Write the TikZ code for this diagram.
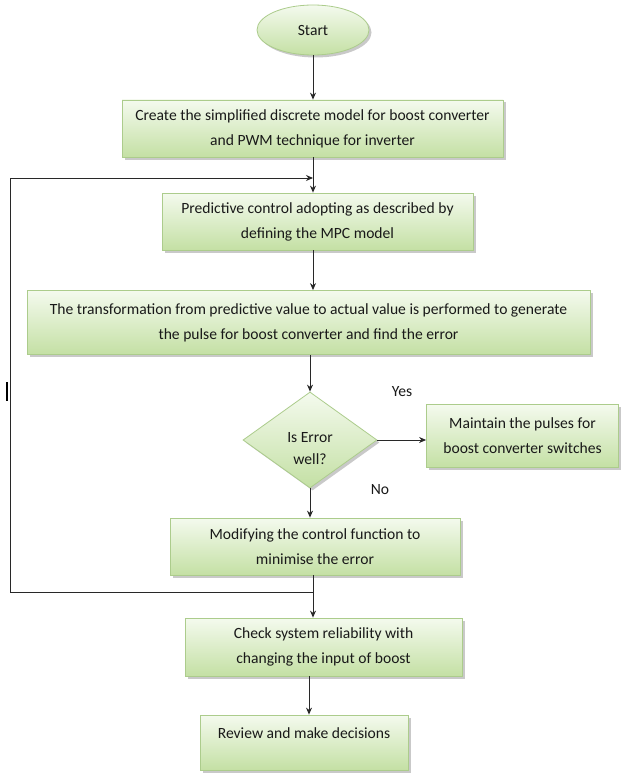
\documentclass[tikz,border=0pt]{standalone}
\usepackage{fontspec}
\setmainfont{Carlito}
\usetikzlibrary{shapes.geometric,arrows.meta,shadows}
\definecolor{boxtop}{RGB}{244,250,238}
\definecolor{boxbot}{RGB}{196,224,164}
\definecolor{boxline}{RGB}{172,204,140}
\definecolor{lineclr}{RGB}{40,40,40}
\tikzset{
  txt/.style={font=\fontsize{15.6}{25}\selectfont, text=black!90},
  shade box/.style={draw=boxline, line width=0.8pt, top color=boxtop, bottom color=boxbot,
    drop shadow={shadow xshift=2.5pt, shadow yshift=-2.5pt, fill=black!35, opacity=0.6}},
  stepbox/.style={shade box, txt, rectangle, align=center, inner sep=0pt},
  decision/.style={shade box, diamond, inner sep=0pt},
  startnode/.style={shade box, txt, ellipse, inner sep=0pt},
  arr/.style={draw=lineclr, line width=1pt, -{Stealth[length=7pt,width=6pt]}},
  ln/.style={draw=lineclr, line width=1pt},
}
\begin{document}
\begin{tikzpicture}[x=1pt,y=-1pt]
\useasboundingbox[fill=white] (0,0) rectangle (626,773);
\coordinate (spine) at (313,0);
\node[startnode, minimum width=112, minimum height=50] (start) at (313,30) {Start};
\node[stepbox, minimum width=381, minimum height=57] (b1) at (312.5,128.5)
  {Create the simplified discrete model for boost converter\\and PWM technique for inverter};
\node[stepbox, minimum width=311, minimum height=57] (b2) at (317.5,221.5)
  {Predictive control adopting as described by\\defining the MPC model};
\node[stepbox, minimum width=563, minimum height=64] (b3) at (308.5,322.5)
  {The transformation from predictive value to actual value is performed to generate\\the pulse for boost converter and find the error};
\node[decision, minimum width=134, minimum height=96] (d) at (310,440) {};
\node[txt, align=center, font=\fontsize{15.6}{22}\selectfont] (dt) at (310,449) {Is Error\\well?};
\node[stepbox, minimum width=192, minimum height=63] (b4) at (522.5,436)
  {Maintain the pulses for\\boost converter switches};
\node[stepbox, minimum width=290, minimum height=57] (b5) at (315,546.5)
  {Modifying the control function to\\minimise the error};
\node[stepbox, minimum width=277, minimum height=58] (b6) at (323.5,647)
  {Check system reliability with\\changing the input of boost};
\node[stepbox, minimum width=208, minimum height=55] (b7) at (304,742.5)
  {Review and make decisions\\[-6pt]\mbox{}};
\node[txt] (yes) at (402,392) {Yes};
\node[txt] (no) at (380,490) {No};

\coordinate (jtop) at (313,178);
\coordinate (jbot) at (313,592);
\coordinate (ltop) at (10,178);
\coordinate (lbot) at (10,592);

\draw[arr] (start.south -| spine) -- (b1.north -| spine);
\draw[arr] (b1.south -| spine) -- (b2.north -| spine);
\draw[arr] (b2.south -| spine) -- (b3.north -| spine);
\draw[arr] (b3.south -| d.north) -- (d.north);
\draw[arr] (d.east) -- (d.east -| b4.west);
\draw[arr] (d.south) -- (b5.north -| d.south);
\draw[ln] (b5.south -| spine) -- (jbot);
\draw[arr] (jbot) -- (b6.north -| spine);
\draw[arr] (b6.south -| 309,0) -- (b7.north -| 309,0);
\draw[ln] (jbot) -- (lbot) -- (ltop);
\draw[arr] (ltop) -- (jtop);
\coordinate (mk1) at (7,382);
\coordinate (mk2) at (7,401);
\draw[draw=black, line width=1.6pt] (mk1) -- (mk2);
\end{tikzpicture}
\end{document}
